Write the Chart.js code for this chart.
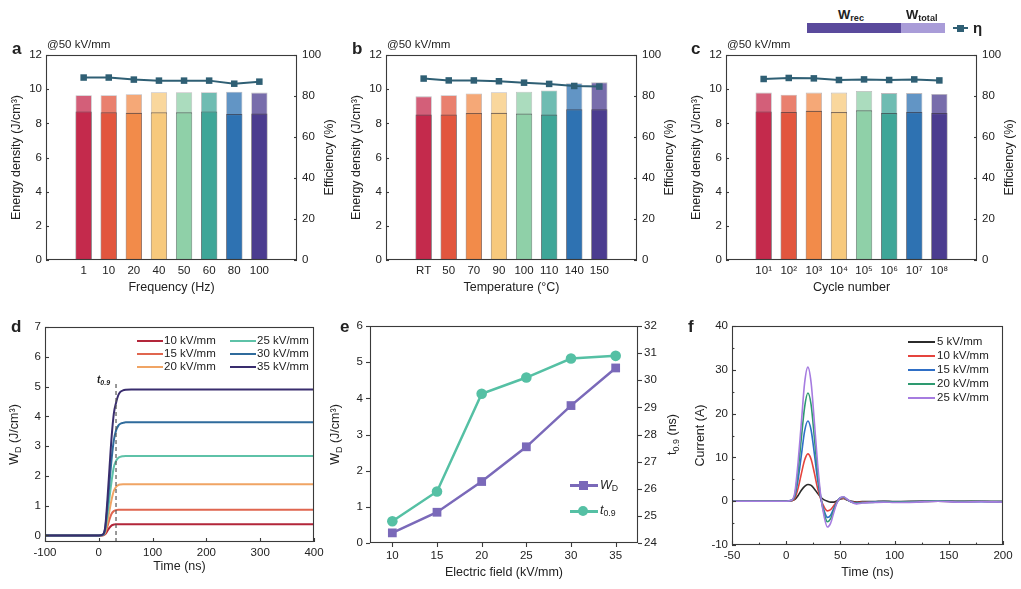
<!DOCTYPE html>
<html>
<head>
<meta charset="utf-8">
<script src="https://cdn.jsdelivr.net/npm/chart.js@4.4.1/dist/chart.umd.min.js"></script>
<style>
  body { margin: 0; background: #fff; width: 1021px; height: 589px; position: relative; overflow: hidden;
         font-family: "Liberation Sans", Arial, sans-serif; color: #222; }
  canvas { position: absolute; }
  .t { position: absolute; white-space: nowrap; line-height: 1; }
  .letter { font-weight: bold; font-size: 17px; }
  .at { font-size: 11.5px; }
  .leg { font-size: 11.5px; }
  .ln { position: absolute; height: 2px; }
  sub { font-size: 70%; vertical-align: -0.25em; line-height: 0; }
</style>
</head>
<body>
<canvas id="ca" width="340" height="270" style="left:0;top:30px"></canvas>
<canvas id="cb" width="340" height="270" style="left:340px;top:30px"></canvas>
<canvas id="cc" width="340" height="270" style="left:680px;top:30px"></canvas>
<canvas id="cd" width="340" height="279" style="left:0;top:310px"></canvas>
<canvas id="ce" width="370" height="279" style="left:320px;top:310px"></canvas>
<canvas id="cf" width="341" height="279" style="left:680px;top:310px"></canvas>

<!-- panel letters and notes -->
<div class="t letter" style="left:12px;top:40px">a</div>
<div class="t letter" style="left:352px;top:40px">b</div>
<div class="t letter" style="left:691px;top:40px">c</div>
<div class="t letter" style="left:11px;top:318px">d</div>
<div class="t letter" style="left:340px;top:318px">e</div>
<div class="t letter" style="left:688px;top:318px">f</div>
<div class="t at" style="left:47px;top:39px">@50 kV/mm</div>
<div class="t at" style="left:387px;top:39px">@50 kV/mm</div>
<div class="t at" style="left:727px;top:39px">@50 kV/mm</div>

<!-- shared legend, top right -->
<div class="t" style="left:838px;top:8px;font-weight:bold;font-size:13px">W<sub>rec</sub></div>
<div class="t" style="left:906px;top:8px;font-weight:bold;font-size:13px">W<sub>total</sub></div>
<div class="t" style="left:807px;top:23px;width:94px;height:10px;background:#5a4a9c"></div>
<div class="t" style="left:901px;top:23px;width:44px;height:10px;background:#a99cd8"></div>
<div class="ln" style="left:953px;top:27px;width:15px;background:#2f5f74"></div>
<div class="t" style="left:957px;top:25px;width:7px;height:7px;background:#2f5f74"></div>
<div class="t" style="left:973px;top:20px;font-weight:bold;font-size:15px">η</div>

<!-- panel d legend -->
<div class="ln" style="left:137px;top:340px;width:26px;background:#b3263a"></div>
<div class="t leg" style="left:164px;top:335px">10 kV/mm</div>
<div class="ln" style="left:137px;top:353px;width:26px;background:#e0664f"></div>
<div class="t leg" style="left:164px;top:348px">15 kV/mm</div>
<div class="ln" style="left:137px;top:366px;width:26px;background:#f0a464"></div>
<div class="t leg" style="left:164px;top:361px">20 kV/mm</div>
<div class="ln" style="left:230px;top:340px;width:26px;background:#5ec2a8"></div>
<div class="t leg" style="left:257px;top:335px">25 kV/mm</div>
<div class="ln" style="left:230px;top:353px;width:26px;background:#2f6b9c"></div>
<div class="t leg" style="left:257px;top:348px">30 kV/mm</div>
<div class="ln" style="left:230px;top:366px;width:26px;background:#392d6e"></div>
<div class="t leg" style="left:257px;top:361px">35 kV/mm</div>
<div class="t" style="left:97px;top:375px;font-style:italic;font-weight:bold;font-size:10px">t<sub>0.9</sub></div>

<!-- panel e legend -->
<div class="ln" style="left:570px;top:484px;width:28px;height:2.5px;background:#7a69b9"></div>
<div class="t" style="left:579px;top:481px;width:9px;height:9px;background:#7a69b9"></div>
<div class="t leg" style="left:600px;top:479px;font-size:12.5px"><i>W</i><sub>D</sub></div>
<div class="ln" style="left:570px;top:510px;width:28px;height:2.5px;background:#55c0a4"></div>
<div class="t" style="left:578px;top:506px;width:10px;height:10px;border-radius:50%;background:#55c0a4"></div>
<div class="t leg" style="left:600px;top:504px;font-size:12.5px"><i>t</i><sub>0.9</sub></div>

<!-- panel f legend -->
<div class="ln" style="left:908px;top:341px;width:27px;height:1.6px;background:#2b2b2b"></div>
<div class="t leg" style="left:937px;top:336px">5 kV/mm</div>
<div class="ln" style="left:908px;top:355px;width:27px;height:1.6px;background:#e5443d"></div>
<div class="t leg" style="left:937px;top:350px">10 kV/mm</div>
<div class="ln" style="left:908px;top:369px;width:27px;height:1.6px;background:#2f6fc6"></div>
<div class="t leg" style="left:937px;top:364px">15 kV/mm</div>
<div class="ln" style="left:908px;top:383px;width:27px;height:1.6px;background:#2e9a70"></div>
<div class="t leg" style="left:937px;top:378px">20 kV/mm</div>
<div class="ln" style="left:908px;top:397px;width:27px;height:1.6px;background:#a67ce0"></div>
<div class="t leg" style="left:937px;top:392px">25 kV/mm</div>

<script>
// ---- data: panels a-c (energy storage stability at 50 kV/mm)
const freqLabels = ["1", "10", "20", "40", "50", "60", "80", "100"];
const freqTotal = [9.65, 9.65, 9.7, 9.82, 9.82, 9.82, 9.85, 9.8];
const freqRec = [8.7, 8.65, 8.62, 8.65, 8.65, 8.7, 8.55, 8.58];
const freqEff = [89, 89, 88, 87.5, 87.5, 87.5, 86, 87];

const tempLabels = ["RT", "50", "70", "90", "100", "110", "140", "150"];
const tempTotal = [9.58, 9.65, 9.75, 9.82, 9.85, 9.92, 10.35, 10.4];
const tempRec = [8.52, 8.52, 8.6, 8.62, 8.57, 8.52, 8.82, 8.82];
const tempEff = [88.5, 87.6, 87.6, 87.2, 86.5, 85.9, 84.9, 84.6];

const cycleLabels = ["10¹", "10²", "10³", "10⁴", "10⁵", "10⁶", "10⁷", "10⁸"];
const cycleTotal = [9.8, 9.68, 9.8, 9.8, 9.9, 9.77, 9.77, 9.72];
const cycleRec = [8.7, 8.66, 8.74, 8.66, 8.77, 8.6, 8.66, 8.6];
const cycleEff = [88.3, 88.8, 88.6, 87.8, 88.1, 87.8, 88.1, 87.6];

// ---- data: panel d (discharged energy vs time)
const dFields = ["10 kV/mm", "15 kV/mm", "20 kV/mm", "25 kV/mm", "30 kV/mm", "35 kV/mm"];
const dTime = [-100, 0, 8, 12, 16, 20, 24, 28, 32, 36, 40, 45, 50, 60, 80, 400];
const dW10 = [0, 0, 0.01, 0.05, 0.15, 0.26, 0.34, 0.365, 0.375, 0.38, 0.38, 0.38, 0.38, 0.38, 0.38, 0.38];
const dW15 = [0, 0, 0.01, 0.08, 0.3, 0.55, 0.74, 0.82, 0.85, 0.86, 0.86, 0.86, 0.86, 0.86, 0.86, 0.86];
const dW20 = [0, 0, 0.02, 0.12, 0.45, 0.85, 1.22, 1.5, 1.63, 1.69, 1.71, 1.72, 1.72, 1.72, 1.72, 1.72];
const dW25 = [0, 0, 0.02, 0.18, 0.68, 1.28, 1.85, 2.3, 2.5, 2.6, 2.64, 2.66, 2.67, 2.67, 2.67, 2.67];
const dW30 = [0, 0, 0.03, 0.25, 0.95, 1.8, 2.6, 3.2, 3.52, 3.68, 3.75, 3.78, 3.8, 3.8, 3.8, 3.8];
const dW35 = [0, 0, 0.04, 0.3, 1.2, 2.3, 3.35, 4.1, 4.45, 4.7, 4.82, 4.87, 4.89, 4.9, 4.9, 4.9];
const t09Marker = [{ x: 32, y: -0.22 }, { x: 32, y: 5.1 }];

// ---- data: panel e
const eField = [10, 15, 20, 25, 30, 35];
const eWD = [0.28, 0.85, 1.7, 2.66, 3.8, 4.84];
const eT09 = [24.8, 25.9, 29.5, 30.1, 30.8, 30.9];

// ---- data: panel f (discharge current)
const fFields = ["5 kV/mm", "10 kV/mm", "15 kV/mm", "20 kV/mm", "25 kV/mm"];
const fTime = [-50, -30, -10, 0, 5, 8, 11, 14, 17, 20, 23, 26, 29, 32, 35, 38, 41, 44, 47, 50, 53, 56, 60, 65, 70, 80, 90, 100, 120, 140, 160, 180, 200];
const fI5 = [0, 0, 0, 0, 0.1, 0.4, 1.3, 2.5, 3.4, 3.8, 3.6, 2.8, 1.8, 0.9, 0.3, 0, -0.2, -0.2, 0.1, 0.5, 0.6, 0.3, 0, -0.2, -0.1, -0.1, 0, -0.1, 0, 0.1, 0, 0, -0.1];
const fI10 = [0, 0, 0, 0, 0.1, 0.7, 3, 6.3, 9.4, 10.8, 9.6, 6.4, 2.9, 0.4, -1.3, -2.2, -1.9, -1, 0, 0.6, 0.7, 0.3, -0.1, -0.3, -0.2, -0.2, -0.1, -0.2, -0.1, 0, -0.1, 0, -0.1];
const fI15 = [0, 0, 0, 0, 0.2, 1.2, 5, 10.5, 16, 18.3, 16.2, 10.8, 4.8, 0.5, -2.2, -3.7, -3.2, -1.6, -0.1, 0.8, 0.9, 0.4, -0.1, -0.4, -0.3, -0.2, -0.1, -0.2, -0.1, 0, -0.1, -0.1, -0.1];
const fI20 = [0, 0, 0, 0, 0.2, 1.5, 7, 14.5, 21.5, 24.7, 22, 14.5, 6.5, 0.8, -2.8, -4.7, -4, -2, -0.2, 0.8, 0.9, 0.4, -0.2, -0.5, -0.3, -0.3, -0.1, -0.2, -0.1, 0.1, -0.1, 0, -0.1];
const fI25 = [0, 0, 0, 0, 0.2, 2, 9, 18, 27, 30.6, 27, 18, 8.5, 1, -3.5, -5.9, -5, -2.5, -0.3, 0.8, 1, 0.5, -0.2, -0.6, -0.4, -0.3, -0.2, -0.3, -0.2, 0, -0.2, -0.1, -0.2];

// ---- styles
const FONT = '"Liberation Sans", Arial, sans-serif';
const INK = "#222";
const barColors = ["#c42a4c", "#e2563e", "#f28b4a", "#f7c97c", "#8fd0a8", "#3fa698", "#2e72b2", "#4b3c8f"];
const effColor = "#2f5f74";

// frame box + tick marks drawn by hand (inward > 0, outward < 0)
const frame = {
    id: "frame",
    afterDatasetsDraw(chart) {
        const { ctx, chartArea: a } = chart;
        ctx.save();
        ctx.strokeStyle = "#3a3a3a";
        ctx.lineWidth = 1.1;
        ctx.strokeRect(a.left + 0.5, a.top + 0.5, a.right - a.left - 1, a.bottom - a.top - 1);
        for (const s of Object.values(chart.scales)) {
            const len = s.options.mark;
            if (!len) continue;
            const tick = (v, l) => {
                const p = Math.round(s.getPixelForValue(v)) + 0.5;
                ctx.beginPath();
                if (s.isHorizontal()) {
                    ctx.moveTo(p, a.bottom); ctx.lineTo(p, a.bottom - l);
                } else if (s.position === "left") {
                    ctx.moveTo(a.left, p); ctx.lineTo(a.left + l, p);
                } else {
                    ctx.moveTo(a.right, p); ctx.lineTo(a.right - l, p);
                }
                ctx.stroke();
            };
            s.ticks.forEach(t => tick(t.value, len));
            const step = s.options.minor;
            if (step) {
                for (let v = Math.ceil(s.min / step) * step; v < s.max; v += step) {
                    if (v > s.min) tick(v, len * 0.6);
                }
            }
        }
        ctx.restore();
    },
};

// axis titles with sub/superscripts, y titles read bottom-to-top
function drawRich(ctx, parts, x, y, rot, size) {
    ctx.save();
    ctx.translate(x, y);
    ctx.rotate(rot);
    const fonts = parts.map(p => `${p.it ? "italic " : ""}${p.sub ? size * 0.72 : size}px ${FONT}`);
    let w = 0;
    const ws = parts.map((p, i) => {
        ctx.font = fonts[i];
        const m = ctx.measureText(p.t).width;
        w += m;
        return m;
    });
    let cx = -w / 2;
    ctx.textBaseline = "middle";
    ctx.fillStyle = INK;
    parts.forEach((p, i) => {
        ctx.font = fonts[i];
        ctx.fillText(p.t, cx, p.sub ? size * 0.32 : 0);
        cx += ws[i];
    });
    ctx.restore();
}

const titles = {
    id: "titles",
    afterDraw(chart, args, opts) {
        const { ctx, chartArea: a } = chart;
        for (const t of opts.list || []) {
            if (t.side === "x") drawRich(ctx, t.parts, (a.left + a.right) / 2, a.bottom + t.off, 0, 12.5);
            else if (t.side === "left") drawRich(ctx, t.parts, a.left - t.off, (a.top + a.bottom) / 2, -Math.PI / 2, 12.5);
            else drawRich(ctx, t.parts, a.right + t.off, (a.top + a.bottom) / 2, -Math.PI / 2, 12.5);
        }
    },
};

Chart.register(frame, titles);
Chart.defaults.font.family = FONT;
Chart.defaults.font.size = 11.5;
Chart.defaults.color = INK;
Chart.defaults.animation = false;
Chart.defaults.responsive = false;
Chart.defaults.plugins.legend.display = false;
Chart.defaults.plugins.tooltip.enabled = false;

const noGrid = { display: false, drawTicks: false };
const noBorder = { display: false };
const fixW = w => s => { s.width = w; };
const fixH = h => s => { s.height = h; };
const pts = (xs, ys) => ys.map((v, i) => ({ x: xs[i], y: v }));

function withAlpha(hex, a) {
    return hex + Math.round(a * 255).toString(16).padStart(2, "0");
}

function barPanel(id, labels, total, rec, eff, xTitle) {
    const idx = labels.map((_, i) => i);
    new Chart(document.getElementById(id), {
        data: {
            datasets: [
                {
                    type: "line", data: pts(idx, eff), yAxisID: "y1", order: 0,
                    borderColor: effColor, backgroundColor: effColor, borderWidth: 2,
                    pointStyle: "rect", pointRadius: 4.6, pointBorderWidth: 0,
                },
                {
                    type: "bar", data: pts(idx, rec), order: 1, grouped: false,
                    backgroundColor: barColors, borderColor: "rgba(35,25,35,0.55)",
                    borderWidth: { top: 1.2, left: 0.8, right: 0.8, bottom: 0 },
                    barPercentage: 0.65, categoryPercentage: 1,
                },
                {
                    type: "bar", data: pts(idx, total), order: 2, grouped: false,
                    backgroundColor: barColors.map(c => withAlpha(c, 0.75)), borderColor: "rgba(35,25,35,0.3)",
                    borderWidth: { top: 0.8, left: 0.8, right: 0.8, bottom: 0 },
                    barPercentage: 0.65, categoryPercentage: 1,
                },
            ],
        },
        options: {
            layout: { padding: { top: 25, left: 0, right: 0, bottom: 0 } },
            scales: {
                x: {
                    type: "linear", min: -1, max: 8, grid: noGrid, border: noBorder, afterFit: fixH(40),
                    ticks: { stepSize: 1, autoSkip: false, includeBounds: false, maxRotation: 0, padding: 4,
                             callback: v => labels[Math.round(v)] ?? "" },
                },
                y: {
                    min: 0, max: 12, grid: noGrid, border: noBorder, afterFit: fixW(46), mark: 3,
                    ticks: { stepSize: 2, padding: 4 },
                },
                y1: {
                    position: "right", min: 0, max: 100, grid: noGrid, border: noBorder, afterFit: fixW(43), mark: 3,
                    ticks: { stepSize: 20, padding: 5 },
                },
            },
            plugins: {
                titles: {
                    list: [
                        { side: "x", off: 28, parts: [{ t: xTitle }] },
                        { side: "left", off: 29, parts: [{ t: "Energy density (J/cm³)" }] },
                        { side: "right", off: 33, parts: [{ t: "Efficiency (%)" }] },
                    ],
                },
            },
        },
    });
}

barPanel("ca", freqLabels, freqTotal, freqRec, freqEff, "Frequency (Hz)");
barPanel("cb", tempLabels, tempTotal, tempRec, tempEff, "Temperature (°C)");
barPanel("cc", cycleLabels, cycleTotal, cycleRec, cycleEff, "Cycle number");

// ---- panel d
const dSeries = [dW10, dW15, dW20, dW25, dW30, dW35];
const dColors = ["#b3263a", "#e0664f", "#f0a464", "#5ec2a8", "#2f6b9c", "#392d6e"];
new Chart(document.getElementById("cd"), {
    type: "line",
    data: {
        datasets: [
            ...dSeries.map((ys, i) => ({
                label: dFields[i], data: pts(dTime, ys), order: 10 - i,
                borderColor: dColors[i], borderWidth: 2, pointRadius: 0, cubicInterpolationMode: "monotone",
            })),
            {
                label: "t0.9", data: t09Marker, order: 0,
                borderColor: "#555", borderWidth: 1.2, borderDash: [4, 3], pointRadius: 0,
            },
        ],
    },
    options: {
        layout: { padding: { top: 17, right: 26, left: 0, bottom: 0 } },
        scales: {
            x: {
                type: "linear", min: -100, max: 400, grid: noGrid, border: noBorder, afterFit: fixH(47), mark: 4,
                ticks: { stepSize: 100, includeBounds: false, maxRotation: 0, padding: 4 },
            },
            y: {
                min: -0.22, max: 7, grid: noGrid, border: noBorder, afterFit: fixW(45), mark: 4,
                ticks: { stepSize: 1, includeBounds: false, padding: 4 },
            },
        },
        plugins: {
            titles: {
                list: [
                    { side: "x", off: 25, parts: [{ t: "Time (ns)" }] },
                    { side: "left", off: 30, parts: [{ t: "W" }, { t: "D", sub: true }, { t: " (J/cm³)" }] },
                ],
            },
        },
    },
});

// ---- panel e
new Chart(document.getElementById("ce"), {
    type: "line",
    data: {
        datasets: [
            {
                label: "WD", data: pts(eField, eWD), yAxisID: "y",
                borderColor: "#7a69b9", backgroundColor: "#7a69b9", borderWidth: 2.5,
                pointStyle: "rect", pointRadius: 6.2, pointBorderWidth: 0,
            },
            {
                label: "t0.9", data: pts(eField, eT09), yAxisID: "y1",
                borderColor: "#55c0a4", backgroundColor: "#55c0a4", borderWidth: 2.5,
                pointStyle: "circle", pointRadius: 5.3, pointBorderWidth: 0,
            },
        ],
    },
    options: {
        layout: { padding: { top: 16, left: 0, right: 0, bottom: 0 } },
        scales: {
            x: {
                type: "linear", min: 7.5, max: 37.5, grid: noGrid, border: noBorder, afterFit: fixH(46), mark: -4,
                afterBuildTicks: s => { s.ticks = eField.map(v => ({ value: v })); },
                ticks: { maxRotation: 0, padding: 6 },
            },
            y: {
                min: 0, max: 6, grid: noGrid, border: noBorder, afterFit: fixW(50), mark: -4,
                ticks: { stepSize: 1, padding: 7 },
            },
            y1: {
                position: "right", min: 24, max: 32, grid: noGrid, border: noBorder, afterFit: fixW(52), mark: -4,
                ticks: { stepSize: 1, padding: 6 },
            },
        },
        plugins: {
            titles: {
                list: [
                    { side: "x", off: 30, parts: [{ t: "Electric field (kV/mm)" }] },
                    { side: "left", off: 34, parts: [{ t: "W" }, { t: "D", sub: true }, { t: " (J/cm³)" }] },
                    { side: "right", off: 35, parts: [{ t: "t" }, { t: "0.9", sub: true }, { t: " (ns)" }] },
                ],
            },
        },
    },
});

// ---- panel f
const fSeries = [fI5, fI10, fI15, fI20, fI25];
const fColors = ["#2b2b2b", "#e5443d", "#2f6fc6", "#2e9a70", "#a67ce0"];
new Chart(document.getElementById("cf"), {
    type: "line",
    data: {
        datasets: fSeries.map((ys, i) => ({
            label: fFields[i], data: pts(fTime, ys), order: 10 - i,
            borderColor: fColors[i], borderWidth: 1.6, pointRadius: 0, cubicInterpolationMode: "monotone",
        })),
    },
    options: {
        layout: { padding: { top: 16, right: 18, left: 0, bottom: 0 } },
        scales: {
            x: {
                type: "linear", min: -50, max: 200, grid: noGrid, border: noBorder, afterFit: fixH(44), mark: 4, minor: 25,
                ticks: { stepSize: 50, maxRotation: 0, padding: 4 },
            },
            y: {
                min: -10, max: 40, grid: noGrid, border: noBorder, afterFit: fixW(52), mark: 4, minor: 5,
                ticks: { stepSize: 10, padding: 4 },
            },
        },
        plugins: {
            titles: {
                list: [
                    { side: "x", off: 28, parts: [{ t: "Time (ns)" }] },
                    { side: "left", off: 31, parts: [{ t: "Current (A)" }] },
                ],
            },
        },
    },
});
</script>
</body>
</html>
